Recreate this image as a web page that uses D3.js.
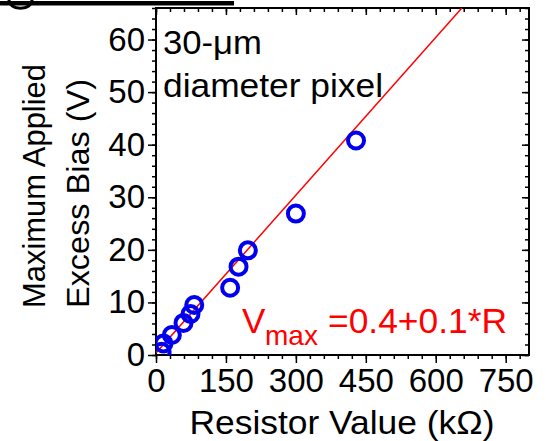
<!DOCTYPE html>
<html>
<head>
<meta charset="utf-8">
<script src="https://cdn.jsdelivr.net/npm/d3@7/dist/d3.min.js"></script>
<style>
  body { margin: 0; background: #fff; }
  svg { display: block; font-family: "Liberation Sans", Arial, sans-serif; }
</style>
</head>
<body>
<div id="chart"></div>
<script>
document.addEventListener('DOMContentLoaded', function() {
    const width = 546;
    const height = 441;

    // resistor value (kOhm) and max applied excess bias (V)
    const resistor = [12, 16, 34, 59, 74, 82, 159, 177, 197, 300, 429];
    const maxBias = [0.6, 2.2, 3.8, 6.1, 7.8, 9.5, 12.8, 16.8, 19.9, 26.9, 40.8];

    // fit line V = 0.4 + 0.1*R
    const fitR = [0, 800];
    const fitV = fitR.map(r => 0.4 + 0.1 * r);

    const xTicks = [0, 150, 300, 450, 600, 750];
    const yTicks = [0, 10, 20, 30, 40, 50, 60];
    const xMinor = d3.range(0, 800, 30);
    const yMinor = d3.range(0, 67, 2);

    const left = 156, right = 529, top = 8, bottom = 355;

    const svg = d3.select("#chart")
        .append("svg")
        .attr("width", width)
        .attr("height", height);

    const x = d3.scaleLinear().domain([0, 800]).range([left, right]);
    const y = d3.scaleLinear().domain([0, 66]).range([bottom, top]);

    // bits of the cropped figure above
    svg.append("rect")
        .attr("x", 0).attr("y", 1)
        .attr("width", 234).attr("height", 4.5)
        .style("fill", "#000");
    svg.append("path")
        .attr("d", "M9,0 A11,8 0 0 0 32,0")
        .style("fill", "none")
        .style("stroke", "#000")
        .style("stroke-width", "3px");

    svg.append("clipPath").attr("id", "plotclip")
        .append("rect")
        .attr("x", left).attr("y", top)
        .attr("width", right - left).attr("height", bottom - top);

    // frame
    svg.append("rect")
        .attr("x", left).attr("y", top)
        .attr("width", right - left).attr("height", bottom - top)
        .style("fill", "none")
        .style("stroke", "#000")
        .style("stroke-width", "2px");

    function styleAxis(g) {
        g.select(".domain").remove();
        g.selectAll(".tick line").style("stroke", "#000").style("stroke-width", "1.5px");
    }

    // bottom axis, ticks outward
    svg.append("g")
        .attr("transform", `translate(0,${bottom})`)
        .call(d3.axisBottom(x).tickValues(xMinor).tickSize(4).tickFormat(""))
        .call(styleAxis);
    svg.append("g")
        .attr("transform", `translate(0,${bottom})`)
        .call(d3.axisBottom(x).tickValues(xTicks).tickSize(8).tickPadding(6))
        .call(styleAxis)
        .selectAll("text")
        .style("font-size", "33px")
        .style("fill", "#000");

    // left axis, ticks outward
    svg.append("g")
        .attr("transform", `translate(${left},0)`)
        .call(d3.axisLeft(y).tickValues(yMinor).tickSize(4).tickFormat(""))
        .call(styleAxis);
    svg.append("g")
        .attr("transform", `translate(${left},0)`)
        .call(d3.axisLeft(y).tickValues(yTicks).tickSize(8).tickPadding(3))
        .call(styleAxis)
        .selectAll("text")
        .style("font-size", "33px")
        .style("fill", "#000");

    // top and right, ticks inward
    svg.append("g")
        .attr("transform", `translate(0,${top})`)
        .call(d3.axisTop(x).tickValues(xMinor).tickSize(-4).tickFormat(""))
        .call(styleAxis);
    svg.append("g")
        .attr("transform", `translate(0,${top})`)
        .call(d3.axisTop(x).tickValues(xTicks).tickSize(-7).tickFormat(""))
        .call(styleAxis);
    svg.append("g")
        .attr("transform", `translate(${right},0)`)
        .call(d3.axisRight(y).tickValues(yMinor).tickSize(-4).tickFormat(""))
        .call(styleAxis);
    svg.append("g")
        .attr("transform", `translate(${right},0)`)
        .call(d3.axisRight(y).tickValues(yTicks).tickSize(-7).tickFormat(""))
        .call(styleAxis);

    const plot = svg.append("g").attr("clip-path", "url(#plotclip)");

    // fit line
    plot.append("line")
        .attr("x1", x(fitR[0])).attr("y1", y(fitV[0]))
        .attr("x2", x(fitR[1])).attr("y2", y(fitV[1]))
        .style("stroke", "#ff0000")
        .style("stroke-width", "1.5px");

    // data points
    plot.selectAll(".pt")
        .data(resistor)
        .enter().append("circle")
        .attr("class", "pt")
        .attr("cx", d => x(d))
        .attr("cy", (d, i) => y(maxBias[i]))
        .attr("r", 8)
        .style("fill", "none")
        .style("stroke", "#0000ee")
        .style("stroke-width", "4px");

    // annotation text
    svg.append("text")
        .attr("x", 163).attr("y", 54)
        .attr("textLength", 99).attr("lengthAdjust", "spacingAndGlyphs")
        .style("font-size", "33px")
        .text("30-\u03BCm");
    svg.append("text")
        .attr("x", 163).attr("y", 97)
        .attr("textLength", 220).attr("lengthAdjust", "spacingAndGlyphs")
        .style("font-size", "33px")
        .text("diameter pixel");

    const eq = svg.append("text")
        .style("fill", "#ff0000");
    eq.append("tspan").attr("x", 242).attr("y", 333).style("font-size", "35px").text("V");
    eq.append("tspan").attr("x", 265).attr("y", 345).style("font-size", "28px").text("max");
    eq.append("tspan").attr("x", 328).attr("y", 333).style("font-size", "35px")
        .attr("textLength", 179).attr("lengthAdjust", "spacingAndGlyphs")
        .text("=0.4+0.1*R");

    // axis titles
    svg.append("text")
        .attr("x", 342).attr("y", 434)
        .attr("text-anchor", "middle")
        .attr("textLength", 305).attr("lengthAdjust", "spacingAndGlyphs")
        .style("font-size", "33px")
        .text("Resistor Value (k\u03A9)");

    svg.append("text")
        .attr("transform", "translate(45,308) rotate(-90)")
        .attr("textLength", 244).attr("lengthAdjust", "spacingAndGlyphs")
        .style("font-size", "32px")
        .text("Maximum Applied");
    svg.append("text")
        .attr("transform", "translate(89,308) rotate(-90)")
        .attr("textLength", 229).attr("lengthAdjust", "spacingAndGlyphs")
        .style("font-size", "32px")
        .text("Excess Bias (V)");
});
</script>
</body>
</html>
